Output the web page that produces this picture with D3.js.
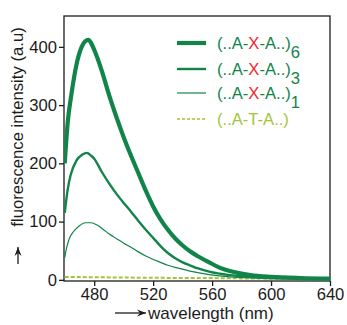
<!DOCTYPE html>
<html><head><meta charset="utf-8">
<script src="https://cdn.jsdelivr.net/npm/d3@7"></script>
<style>body{margin:0;background:#fff}svg{display:block}</style>
</head><body>
<svg id="c" width="347" height="325"></svg>
<script>
const xTicks = [480, 520, 560, 600, 640];
const yTicks = [0, 100, 200, 300, 400];
const hexamer = [[460,200],[462,270],[464.5,318],[468,370],[471.5,400],[474,410],[476,412],[478,406],[480,395],[485,360],[490,318],[495,280],[500,245],[505,213],[510,183],[515,153],[520,126],[525,104],[530,86],[535,71],[540,59],[545,49],[550,41],[558,30],[565,21],[572,15],[586,8],[600,5],[620,3],[640,2]];
const trimer = [[460,115],[462,155],[464,180],[468,205],[472,215],[475,218],[478,213],[480,208],[485,186],[490,166],[495,148],[500,132],[505,117],[510,101],[515,86],[520,72],[525,58],[530,46],[535,37],[540,30],[545,25],[550,20],[558,14],[572,8],[586,5],[600,3],[640,2]];
const monomer = [[460,38],[461,52],[463,70],[466,83],[470,93],[474,98],[478,98],[482,94],[486,87],[490,79],[495,71],[500,63],[505,56],[510,48],[515,41],[520,35],[525,30],[530,25],[537,20],[545,15],[558,9],[572,5],[586,3.5],[600,3],[640,2]];
const ata = [[460,5],[480,4.5],[520,3.5],[560,3],[600,2],[640,1.5]];
const legendSubs = ["6","3","1",""];

const svg = d3.select("#c");
const L=64, R=330, T=16, B=281;
const x = d3.scaleLinear().domain([459.5,640]).range([L,R]);
const y = d3.scaleLinear().domain([-2,453]).range([B,T]);
const green = "#11844a", lgreen = "#a3c43c", ink = "#1c1c1c";
const font = "Liberation Sans, Arial, sans-serif";

svg.append("rect").attr("x",L).attr("y",T).attr("width",R-L).attr("height",B-T)
  .attr("fill","none").attr("stroke",ink).attr("stroke-width",1.3);

const xa = svg.append("g").attr("transform",`translate(0,${B})`)
  .call(d3.axisBottom(x).tickValues(xTicks).tickSize(5).tickPadding(2).tickSizeOuter(0));
const ya = svg.append("g").attr("transform",`translate(${L},0)`)
  .call(d3.axisLeft(y).tickValues(yTicks).tickSize(5).tickPadding(2).tickSizeOuter(0));
[xa,ya].forEach(a=>{
  a.select(".domain").remove();
  a.selectAll("line").attr("stroke",ink).attr("stroke-width",1.3);
  a.selectAll("text").attr("font-family",font).attr("font-size",16.6).attr("fill",ink);
});

const line = d3.line().x(d=>x(d[0])).y(d=>y(d[1])).curve(d3.curveMonotoneX);
svg.append("clipPath").attr("id","cp").append("rect").attr("x",L).attr("y",T).attr("width",R-L).attr("height",B-T);
const g = svg.append("g").attr("clip-path","url(#cp)");
g.append("path").datum(ata).attr("d",line).attr("fill","none").attr("stroke",lgreen).attr("stroke-width",2).attr("stroke-dasharray","4,2");
g.append("path").datum(monomer).attr("d",line).attr("fill","none").attr("stroke",green).attr("stroke-width",1.2);
g.append("path").datum(trimer).attr("d",line).attr("fill","none").attr("stroke",green).attr("stroke-width",2.4);
g.append("path").datum(hexamer).attr("d",line).attr("fill","none").attr("stroke",green).attr("stroke-width",4.2);

const ly = [43, 69, 93, 119];
const lw = [4.2, 2.4, 1.2, 1.5];
ly.forEach((yy,i)=>{
  const ln = svg.append("line").attr("x1",177).attr("x2",206).attr("y1",yy).attr("y2",yy)
    .attr("stroke", i<3?green:lgreen).attr("stroke-width",lw[i]);
  if(i===3) ln.attr("stroke-dasharray","3,2");
  const t = svg.append("text").attr("x",217).attr("y",yy+5.5).attr("font-family",font).attr("font-size",16.6)
    .attr("fill", i<3?green:lgreen);
  if(i<3){
    t.append("tspan").text("(..A-");
    t.append("tspan").attr("fill","#ee2a2a").text("X");
    t.append("tspan").text("-A..)");
    t.append("tspan").attr("dy",9).text(legendSubs[i]);
  } else {
    t.text("(..A-T-A..)");
  }
});

svg.append("text").attr("transform","translate(23,127) rotate(-90)").attr("text-anchor","middle")
  .attr("font-family",font).attr("font-size",16.7).attr("fill",ink).text("fluorescence intensity (a.u)");
svg.append("text").attr("x",148).attr("y",319).attr("font-family",font).attr("font-size",17).attr("fill",ink).text("wavelength (nm)");

function arrow(x1,y1,x2,y2){
  svg.append("line").attr("x1",x1).attr("y1",y1).attr("x2",x2).attr("y2",y2).attr("stroke",ink).attr("stroke-width",1.3);
  const a = Math.atan2(y2-y1,x2-x1), s=9, w=3.5;
  const bx = x2 - s*Math.cos(a), by = y2 - s*Math.sin(a);
  const px = -Math.sin(a)*w, py = Math.cos(a)*w;
  svg.append("path").attr("d",`M${x2},${y2}L${bx+px},${by+py}L${bx+3*Math.cos(a)},${by+3*Math.sin(a)}L${bx-px},${by-py}Z`).attr("fill",ink);
}
arrow(18,264,18,247);
arrow(115,313,146,313);
</script>
</body></html>
